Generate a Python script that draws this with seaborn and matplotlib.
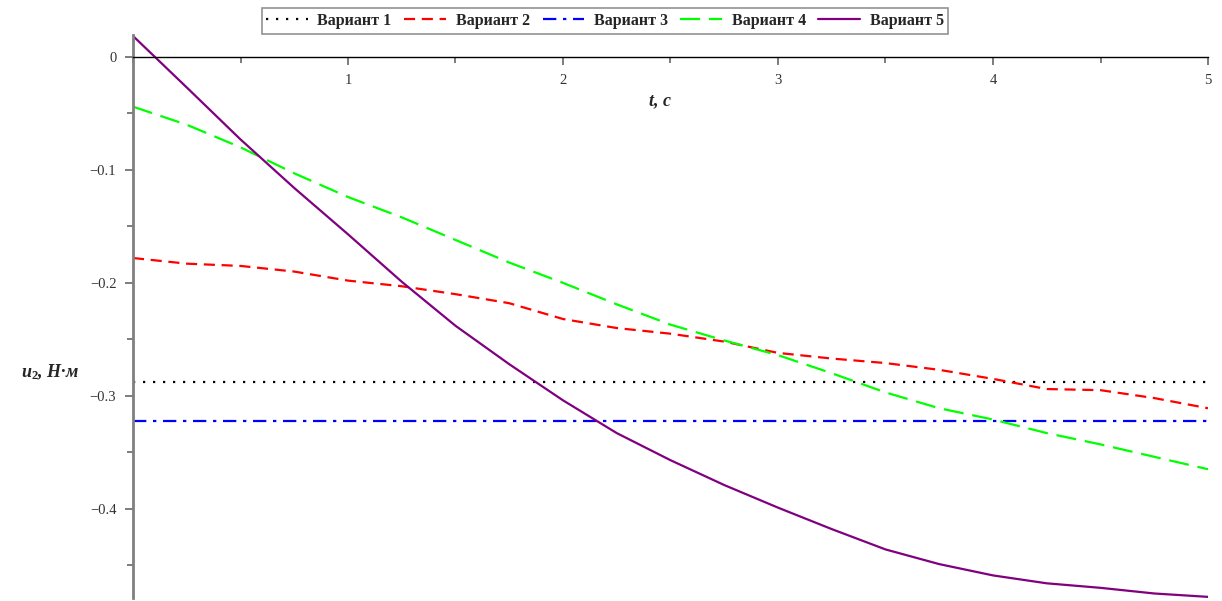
import numpy as np
import pandas as pd
import matplotlib
matplotlib.use("Agg")
import matplotlib.pyplot as plt
import seaborn as sns
from matplotlib.ticker import MultipleLocator, FixedLocator

# ---- data ----
t_const = [0.0, 5.0]
var1 = [-0.288, -0.288]
var3 = [-0.322, -0.322]

t = [0.0, 0.25, 0.5, 0.75, 1.0, 1.25, 1.5, 1.75, 2.0, 2.25, 2.5,
     2.75, 3.0, 3.25, 3.5, 3.75, 4.0, 4.25, 4.5, 4.75, 5.0]
var2 = [-0.178, -0.183, -0.185, -0.190, -0.198, -0.203, -0.210, -0.218,
        -0.232, -0.240, -0.245, -0.252, -0.262, -0.267, -0.271, -0.277,
        -0.285, -0.294, -0.295, -0.302, -0.311]
var4 = [-0.044, -0.060, -0.080, -0.103, -0.124, -0.142, -0.162, -0.182,
        -0.200, -0.219, -0.237, -0.251, -0.264, -0.280, -0.297, -0.311,
        -0.321, -0.333, -0.343, -0.354, -0.365]
var5 = [0.0186, -0.027, -0.073, -0.116, -0.157, -0.199, -0.238, -0.272,
        -0.304, -0.333, -0.357, -0.379, -0.399, -0.418, -0.436, -0.449,
        -0.459, -0.466, -0.470, -0.475, -0.478]

labels = ["Вариант 1", "Вариант 2", "Вариант 3", "Вариант 4", "Вариант 5"]
xticks = [1, 2, 3, 4, 5]
yticks = [-0.4, -0.3, -0.2, -0.1, 0.0]

sns.set_style("white")
plt.rcParams["font.family"] = ["Liberation Serif", "DejaVu Serif"]
plt.rcParams["mathtext.fontset"] = "custom"
plt.rcParams["mathtext.it"] = "Liberation Serif:italic:bold"
plt.rcParams["mathtext.rm"] = "Liberation Serif:bold"
plt.rcParams["axes.unicode_minus"] = True

fig = plt.figure(figsize=(12.22, 6.01), dpi=100)
ax = fig.add_axes([133 / 1222, 1 - 598 / 601, (1208 - 133) / 1222, (598 - 35.5) / 601])

series = [
    (t_const, var1, dict(color="black", linestyle=(0, (1, 3.5)), linewidth=1.6)),
    (t, var2, dict(color="#ff0000", linestyle=(0, (5, 3)), linewidth=1.6)),
    (t_const, var3, dict(color="#0000ff", linestyle=(0, (6, 3, 1.5, 3)), linewidth=1.6)),
    (t, var4, dict(color="#00ff00", linestyle=(0, (9, 4)), linewidth=1.6)),
    (t, var5, dict(color="#800080", linestyle="-", linewidth=1.6)),
]
for (xs, ys, st), lab in zip(series, labels):
    sns.lineplot(x=xs, y=ys, ax=ax, label=lab, **st)

ax.set_xlim(0, 5)
ax.set_ylim(-0.479, 0.019)

for s in ["top", "right"]:
    ax.spines[s].set_visible(False)
ax.spines["bottom"].set_position(("data", 0))
ax.spines["bottom"].set_color("black")
ax.spines["bottom"].set_linewidth(1.0)
ax.spines["left"].set_color("#808080")
ax.spines["left"].set_linewidth(2.0)

ax.xaxis.set_major_locator(FixedLocator(xticks))
ax.xaxis.set_minor_locator(MultipleLocator(0.5))
ax.yaxis.set_major_locator(FixedLocator(yticks))
ax.yaxis.set_minor_locator(MultipleLocator(0.05))
ax.set_yticklabels(["\u22120.4", "\u22120.3", "\u22120.2", "\u22120.1", "0"])
ax.set_xticklabels([str(v) for v in xticks])

ax.tick_params(axis="both", which="major", direction="out", length=6, width=1.2,
               color="#666666", labelsize=10.5, labelcolor="#333333", pad=6)
ax.tick_params(axis="both", which="minor", direction="out", length=4, width=1.2,
               color="#666666")
ax.tick_params(axis="x", which="both", bottom=True)
ax.tick_params(axis="y", which="both", left=True)

ax.set_xlabel("")
ax.set_ylabel("")
fig.text(660 / 1222, 1 - 101 / 601, "t, c", fontsize=13, fontweight="bold",
         fontstyle="italic", ha="center", va="center")
fig.text(50 / 1222, 1 - 372 / 601, r"$u_{2}$, Н·м", fontsize=13, fontweight="bold",
         fontstyle="italic", ha="center", va="center")

leg = ax.legend(loc="upper center", bbox_to_anchor=(605 / 1222, 1.0),
                bbox_transform=fig.transFigure, ncol=5, frameon=True,
                fancybox=False, edgecolor="#777777", handlelength=2.6,
                handletextpad=0.6, columnspacing=0.8, borderpad=0.3,
                prop=dict(family="Liberation Serif", weight="bold", size=11.5))
leg.get_frame().set_linewidth(1.2)

fig.savefig("out.png", dpi=100, facecolor="white")
